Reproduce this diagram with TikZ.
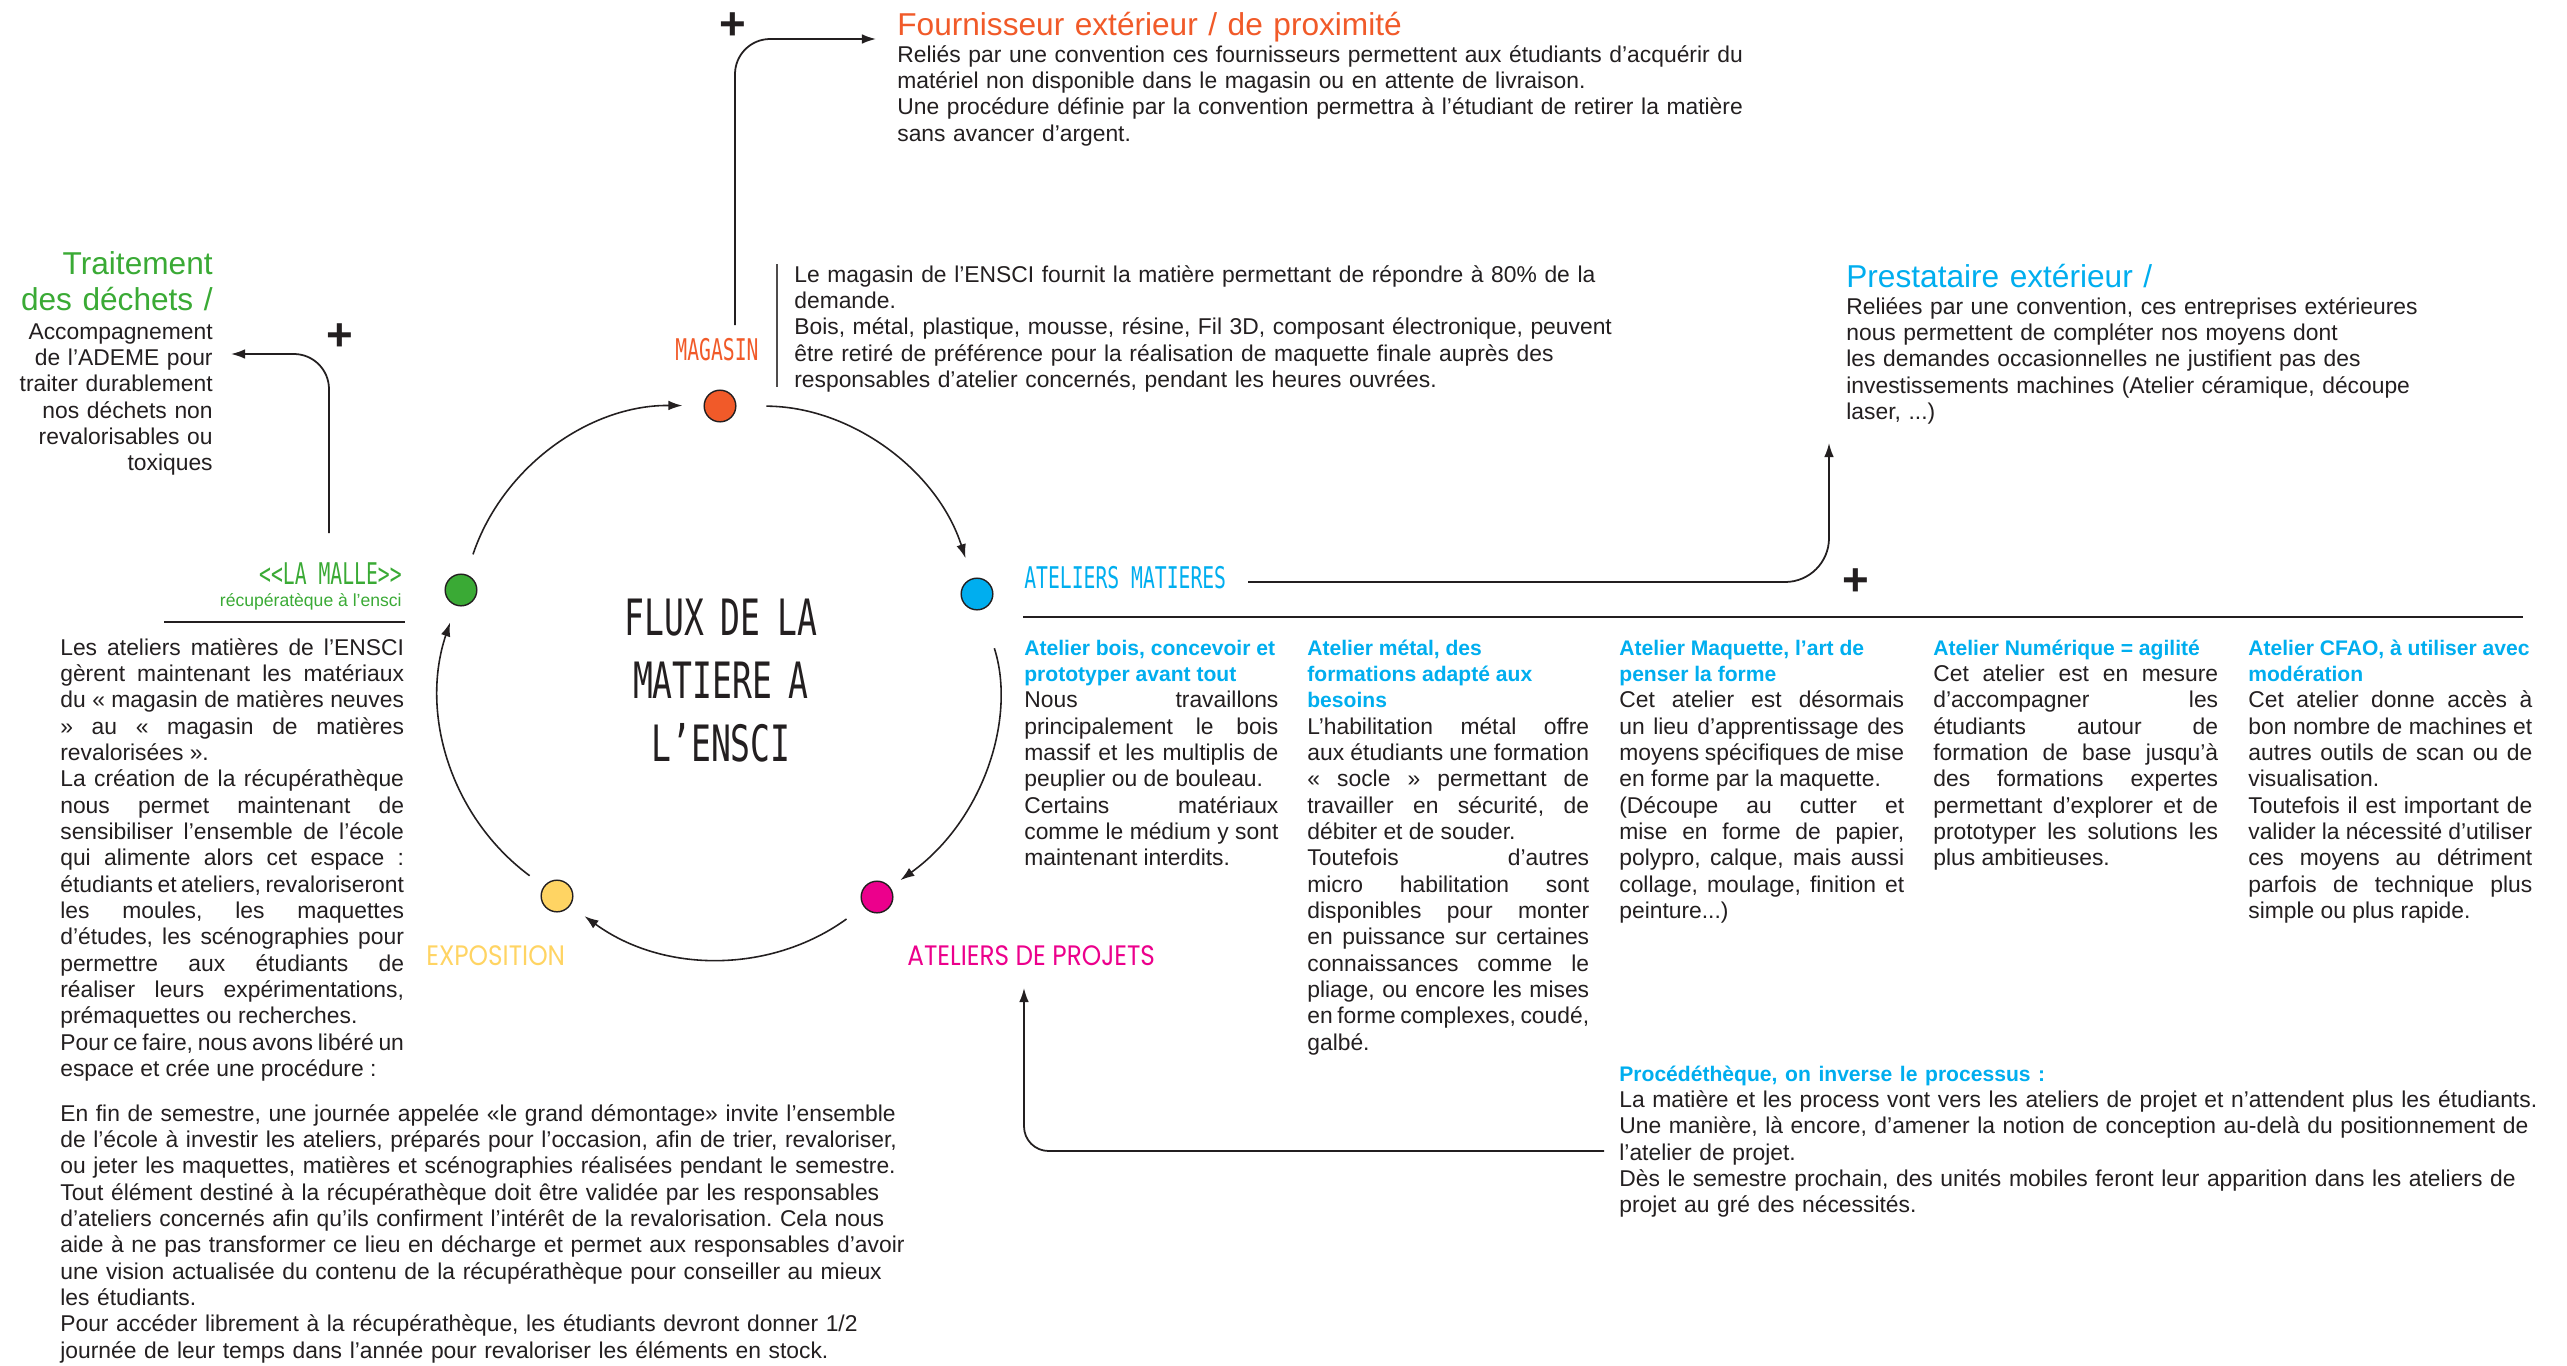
\documentclass[tikz,border=0pt]{standalone}
\usepackage{fontspec}
\setmainfont{Liberation Sans}
\newfontfamily\monofont[FakeStretch=0.66]{DejaVu Sans Mono}
\newfontfamily\geofont[FakeStretch=0.88]{Poppins}
\usetikzlibrary{arrows.meta}
\frenchspacing

\definecolor{textdark}{HTML}{231F20}
\definecolor{magorange}{HTML}{F15A29}
\definecolor{atblue}{HTML}{00AEEF}
\definecolor{projpink}{HTML}{EC008C}
\definecolor{expoyellow}{HTML}{FFD463}
\definecolor{mallegreen}{HTML}{3AAA35}

\newcommand\txt{\fontsize{13}{15}\selectfont}
\newcommand\bigtxt{\fontsize{18}{21}\selectfont}
\newcommand\capstxt{\monofont\fontsize{17}{20}\selectfont}
\newcommand\geotxt{\geofont\fontsize{16}{20}\selectfont}
\newcommand\blk[2]{\vtop{\hsize=#1\relax #2}}
\newcommand\jl[1]{\par\hbox to\hsize{#1}}
\newcommand\pl[1]{\par\hbox{#1}}
\newcommand\hd[1]{\par\hbox{\color{atblue}\fontsize{12}{15}\selectfont\bfseries #1}}

\begin{document}
\begin{tikzpicture}[x=0.02cm, y=-0.02cm,
    cycdot/.style={circle, draw=textdark, line width=0.8pt, minimum size=18pt, inner sep=0pt},
    cyc/.style={-{Latex[length=8pt, width=5.5pt]}, line width=0.9pt, textdark},
    flow/.style={-{Latex[length=8pt, width=5.5pt]}, line width=1pt, textdark},
    body/.style={inner sep=0pt, anchor=base west, text=textdark, font=\txt, text width=#1},
    ragged/.style={body=#1, align=left},
    justblk/.style={inner sep=0pt, anchor=base west, text=textdark, font=\txt},
    caps/.style={inner sep=0pt, anchor=base west, font=\capstxt},
    plussign/.style={inner sep=0pt, font=\bfseries\fontsize{26}{26}\selectfont, text=textdark}]

    \fill[white] (0,0) rectangle (2567,1366);
    \useasboundingbox (0,0) rectangle (2567,1366);

    % Cycle dots
    \node[cycdot, fill=magorange] (magdot) at (720,406) {};
    \node[cycdot, fill=atblue] (atmatdot) at (977,594) {};
    \node[cycdot, fill=projpink] (projdot) at (877,897) {};
    \node[cycdot, fill=expoyellow] (expodot) at (557,896) {};
    \node[cycdot, fill=mallegreen] (malledot) at (461,590) {};

    % Cycle arrows
    \draw[cyc, shorten <=17pt, shorten >=12pt] (magdot) to[bend left=36] (atmatdot);
    \draw[cyc, shorten <=23pt, shorten >=7pt] (atmatdot) to[bend left=36] (projdot);
    \draw[cyc, shorten <=12pt, shorten >=10pt] (projdot) to[bend left=36] (expodot);
    \draw[cyc, shorten <=10pt, shorten >=10pt] (expodot) to[bend left=36] (malledot);
    \draw[cyc, shorten <=12pt, shorten >=12pt] (malledot) to[bend left=36] (magdot);

    % Title
    \node[anchor=base, align=center, text width=220pt, inner sep=0pt, text=textdark, font=\monofont\fontsize{28.5}{36}\selectfont] (fluxtitle) at (721,635) {FLUX DE LA\\MATIERE A\\L’ENSCI};

    % Cycle labels
    \node[caps, anchor=base, text=magorange] (maglabel) at (717,360) {MAGASIN};
    \node[caps, text=atblue] (atmatlabel) at (1024,588) {ATELIERS MATIERES};
    \node[caps, anchor=base east, text=mallegreen] (mallelabel) at (402,584) {{<}{<}LA MALLE{>}{>}};
    \node[inner sep=0pt, anchor=base east, text=mallegreen, font=\fontsize{10}{12}\selectfont] (mallesub) at (402,606) {récupératèque à l’ensci};
    \node[inner sep=0pt, anchor=base west, text=expoyellow, font=\geotxt] (expolabel) at (426,965) {EXPOSITION};
    \node[inner sep=0pt, anchor=base west, text=projpink, font=\geotxt] (projlabel) at (907,965) {ATELIERS DE PROJETS};

    % Rules
    \draw[line width=1.6pt, textdark] (1023,617) -- (2523,617);
    \draw[line width=1.6pt, textdark] (164,622) -- (405,622);
    \draw[line width=1pt, textdark!80] (777,264) -- (777,387);

    % Supplier
    \node[ragged=320pt, text=magorange, font=\bigtxt] (fourntitle) at (897,35) {Fournisseur extérieur / de proximité};
    \node[ragged=600pt] (fournbody) at (897,62) {Reliés par une convention ces fournisseurs permettent aux étudiants d’acquérir du\\
        matériel non disponible dans le magasin ou en attente de livraison.\\
        Une procédure définie par la convention permettra à l’étudiant de retirer la matière\\
        sans avancer d’argent.};

    % Store
    \node[ragged=560pt] (magbody) at (794,282) {Le magasin de l’ENSCI fournit la matière permettant de répondre à 80\% de la\\
        demande.\\
        Bois, métal, plastique, mousse, résine, Fil 3D, composant électronique, peuvent\\
        être retiré de préférence pour la réalisation de maquette finale auprès des\\
        responsables d’atelier concernés, pendant les heures ouvrées.};

    % Waste
    \node[body=150pt, align=right, anchor=base east, text=mallegreen, font=\bigtxt] (dechetstitle) at (213,274) {Traitement\\des déchets /};
    \node[body=150pt, align=right, anchor=base east] (dechetsbody) at (213,339) {Accompagnement\\de l’ADEME pour\\traiter durablement\\nos déchets non\\revalorisables ou\\toxiques};

    % Recovery store
    \node[justblk] (malletext) at (60,655) {\blk{195.6pt}{%
        \jl{Les ateliers matières de l’ENSCI}
        \jl{gèrent maintenant les matériaux}
        \jl{du « magasin de matières neuves}
        \jl{» au « magasin de matières}
        \pl{revalorisées ».}
        \jl{La création de la récupérathèque}
        \jl{nous permet maintenant de}
        \jl{sensibiliser l’ensemble de l’école}
        \jl{qui alimente alors cet espace :}
        \jl{étudiants et ateliers, revaloriseront}
        \jl{les moules, les maquettes}
        \jl{d’études, les scénographies pour}
        \jl{permettre aux étudiants de}
        \jl{réaliser leurs expérimentations,}
        \pl{prémaquettes ou recherches.}
        \jl{Pour ce faire, nous avons libéré un}
        \pl{espace et crée une procédure :}}};
    \node[ragged=600pt] (demontage) at (60,1121) {En fin de semestre, une journée appelée «le grand démontage» invite l’ensemble\\
        de l’école à investir les ateliers, préparés pour l’occasion, afin de trier, revaloriser,\\
        ou jeter les maquettes, matières et scénographies réalisées pendant le semestre.\\
        Tout élément destiné à la récupérathèque doit être validée par les responsables\\
        d’ateliers concernés afin qu’ils confirment l’intérêt de la revalorisation. Cela nous\\
        aide à ne pas transformer ce lieu en décharge et permet aux responsables d’avoir\\
        une vision actualisée du contenu de la récupérathèque pour conseiller au mieux\\
        les étudiants.\\
        Pour accéder librement à la récupérathèque, les étudiants devront donner 1/2\\
        journée de leur temps dans l’année pour revaloriser les éléments en stock.};

    % External provider
    \node[ragged=260pt, text=atblue, font=\bigtxt] (presttitle) at (1846,287) {Prestataire extérieur /};
    \node[ragged=400pt] (prestbody) at (1846,314) {Reliées par une convention, ces entreprises extérieures\\
        nous permettent de compléter nos moyens dont\\
        les demandes occasionnelles ne justifient pas des\\
        investissements machines (Atelier céramique, découpe\\
        laser, ...)};

    % Workshops
    \node[justblk] (colbois) at (1024,655) {\blk{144.6pt}{%
        \hd{Atelier bois, concevoir et}
        \hd{prototyper avant tout}
        \jl{Nous travaillons}
        \jl{principalement le bois}
        \jl{massif et les multiplis de}
        \pl{peuplier ou de bouleau.}
        \jl{Certains matériaux}
        \jl{comme le médium y sont}
        \pl{maintenant interdits.}}};
    \node[justblk] (colmetal) at (1307,655) {\blk{160.4pt}{%
        \hd{Atelier métal, des}
        \hd{formations adapté aux}
        \hd{besoins}
        \jl{L’habilitation métal offre}
        \jl{aux étudiants une formation}
        \jl{« socle » permettant de}
        \jl{travailler en sécurité, de}
        \pl{débiter et de souder.}
        \jl{Toutefois d’autres}
        \jl{micro habilitation sont}
        \jl{disponibles pour monter}
        \jl{en puissance sur certaines}
        \jl{connaissances comme le}
        \jl{pliage, ou encore les mises}
        \jl{en forme complexes, coudé,}
        \pl{galbé.}}};
    \node[justblk] (colmaquette) at (1619,655) {\blk{162.1pt}{%
        \hd{Atelier Maquette, l’art de}
        \hd{penser la forme}
        \jl{Cet atelier est désormais}
        \jl{un lieu d’apprentissage des}
        \jl{moyens spécifiques de mise}
        \pl{en forme par la maquette.}
        \jl{(Découpe au cutter et}
        \jl{mise en forme de papier,}
        \jl{polypro, calque, mais aussi}
        \jl{collage, moulage, finition et}
        \pl{peinture...)}}};
    \node[justblk] (colnum) at (1933,655) {\blk{162.1pt}{%
        \hd{Atelier Numérique = agilité}
        \jl{Cet atelier est en mesure}
        \jl{d’accompagner les}
        \jl{étudiants autour de}
        \jl{formation de base jusqu’à}
        \jl{des formations expertes}
        \jl{permettant d’explorer et de}
        \jl{prototyper les solutions les}
        \pl{plus ambitieuses.}}};
    \node[justblk] (colcfao) at (2248,655) {\blk{161.6pt}{%
        \hd{Atelier CFAO, à utiliser avec}
        \hd{modération}
        \jl{Cet atelier donne accès à}
        \jl{bon nombre de machines et}
        \jl{autres outils de scan ou de}
        \pl{visualisation.}
        \jl{Toutefois il est important de}
        \jl{valider la nécessité d’utiliser}
        \jl{ces moyens au détriment}
        \jl{parfois de technique plus}
        \pl{simple ou plus rapide.}}};

    % Process library
    \node[ragged=600pt] (procbody) at (1619,1081) {{\color{atblue}\fontsize{12}{15}\selectfont\bfseries Procédéthèque, on inverse le processus :}\\
        La matière et les process vont vers les ateliers de projet et n’attendent plus les étudiants.\\
        Une manière, là encore, d’amener la notion de conception au-delà du positionnement de\\
        l’atelier de projet.\\
        Dès le semestre prochain, des unités mobiles feront leur apparition dans les ateliers de\\
        projet au gré des nécessités.};

    % Plus signs
    \node[plussign] (plusmag) at (733,26) {+};
    \node[plussign] (plusdechets) at (340,337) {+};
    \node[plussign] (plusatmat) at (1856,582) {+};

    % Outgoing connectors
    \coordinate (magup) at (735,325);
    \coordinate (fournin) at (876,39);
    \draw[flow, rounded corners=20pt] (magup) |- (fournin);
    \coordinate (malleup) at (329,533);
    \coordinate (dechetsin) at (231,354);
    \draw[flow, rounded corners=20pt] (malleup) |- (dechetsin);
    \coordinate (atmatout) at (1248,582);
    \coordinate (prestin) at (1829,443);
    \draw[flow, rounded corners=25pt] (atmatout) -| (prestin);
    \coordinate (procout) at (1604,1151);
    \coordinate (projin) at (1024,988);
    \draw[flow, rounded corners=14pt] (procout) -| (projin);
\end{tikzpicture}
\end{document}
